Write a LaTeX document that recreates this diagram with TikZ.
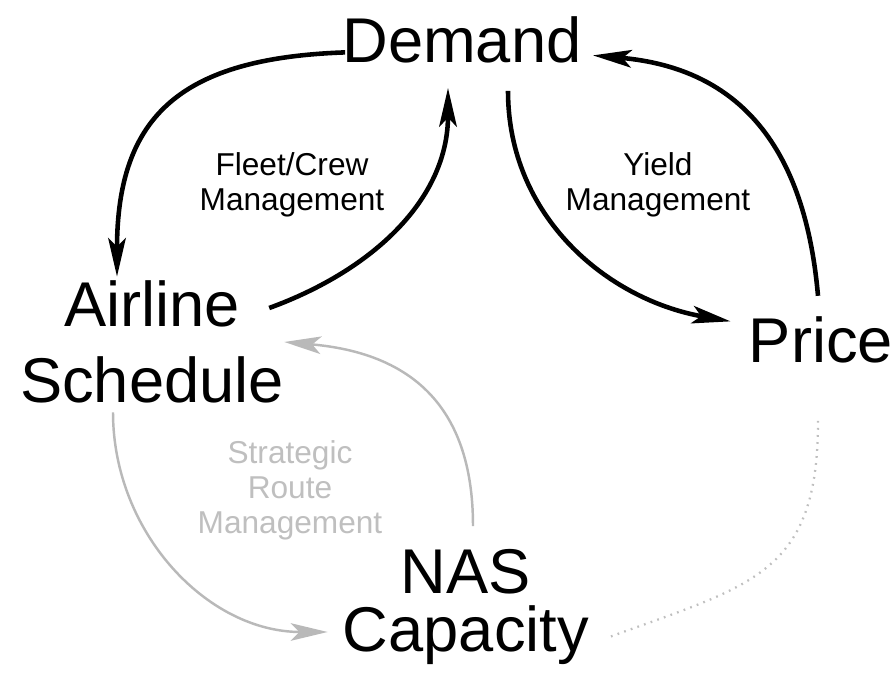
\documentclass[tikz,border=0pt]{standalone}
\usepackage{fontspec}
\setmainfont{Liberation Sans}
\usetikzlibrary{arrows.meta,calc,positioning}

\tikzset{
  big/.style={inner sep=0pt, font=\fontsize{36}{43}\selectfont, align=center},
  small/.style={inner sep=0pt, font=\fontsize{18}{20}\selectfont, align=center},
  flow/.style={line width=2.6pt, -{Stealth[length=22pt,width=10pt,inset=5pt]}},
  faint/.style={line width=1.4pt, draw=gray!55, -{Stealth[length=21pt,width=10pt,inset=5pt]}},
  faintdots/.style={line width=1.3pt, draw=gray!50, dash pattern=on 1pt off 3pt},
}

\begin{document}
\begin{tikzpicture}[x=0.02cm,y=0.02cm]
\useasboundingbox (0,0) rectangle (896,679);
% quantities
\node[big, anchor=base] (dem) at (462,616) {Demand};
\node[big] (air) at (152,337) {Airline\\Schedule};
\node[big, anchor=base] (price) at (821,316) {Price};
\node[big, font=\fontsize{36}{33}\selectfont] (nas) at (466,72) {NAS\\Capacity};
% levers
\node[small] (fleet) at (292,494) {Fleet/Crew\\Management};
\node[small] (yield) at (658,494) {Yield\\Management};
\node[small, text=gray!50] (route) at (290,189) {Strategic\\Route\\Management};

% loops
\draw[flow] ($(dem.west)+(3,-12)$) to[out=182,in=90,looseness=1.3] ($(air.north)+(-35,4)$);
\draw[flow] ($(air.east)+(-15,34)$) to[out=20,in=-90] ($(dem.south)+(-14,-24)$);
\draw[flow] ($(dem.south)+(46,-27)$) to[out=-90,in=170] ($(price.west)+(-18,19)$);
\draw[flow] ($(price.north)+(-3,21)$) to[out=95,in=-5,looseness=1.15] ($(dem.east)+(11,-15)$);
\draw[faint] ($(air.south)+(-39,-9)$) to[out=-90,in=180] ($(nas.west)+(-15,-25)$);
\draw[faint] ($(nas.north)+(7,23)$) to[out=90,in=-5,looseness=1.2] (air.east);
\draw[faintdots] ($(price.south)+(-3,-57)$) to[out=-90,in=20,looseness=1.3] ($(nas.east)+(20,-30)$);
\end{tikzpicture}
\end{document}
